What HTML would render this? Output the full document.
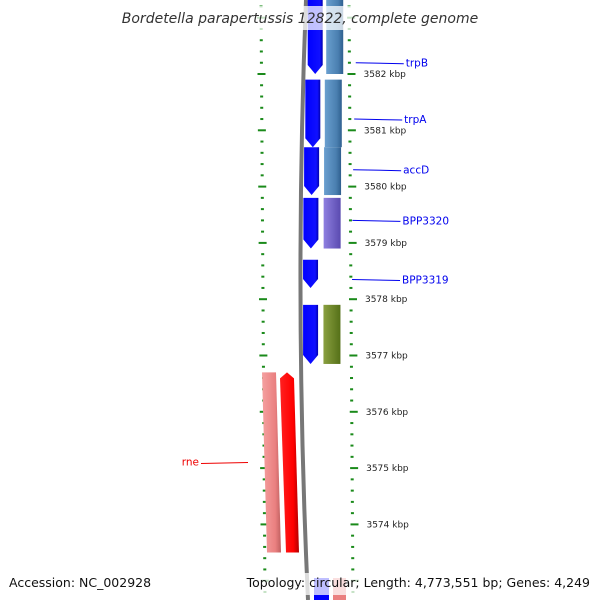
<!DOCTYPE html>
<html><head><meta charset="utf-8"><style>
body{margin:0;background:#fff}
svg text{font-family:"DejaVu Sans","Liberation Sans",sans-serif}
</style></head><body>
<svg id="map" width="600" height="600" viewBox="0 0 600 600" xmlns="http://www.w3.org/2000/svg">
<defs>
<linearGradient id="gb" x1="0" x2="1"><stop offset="0" stop-color="#0000ff"/><stop offset="0.8" stop-color="#1010ff"/><stop offset="1" stop-color="#0000b0"/></linearGradient>
<linearGradient id="gs" x1="0" x2="1"><stop offset="0" stop-color="#6a9fcf"/><stop offset="0.7" stop-color="#4a7fb0"/><stop offset="1" stop-color="#2f5f8f"/></linearGradient>
<linearGradient id="gp" x1="0" x2="1"><stop offset="0" stop-color="#8f80e0"/><stop offset="1" stop-color="#5a4ab0"/></linearGradient>
<linearGradient id="go" x1="0" x2="1"><stop offset="0" stop-color="#8aa040"/><stop offset="1" stop-color="#557018"/></linearGradient>
<linearGradient id="gk" x1="0" x2="1"><stop offset="0" stop-color="#f5a0a0"/><stop offset="0.7" stop-color="#ea8080"/><stop offset="1" stop-color="#c06060"/></linearGradient>
<linearGradient id="gr" x1="0" x2="1"><stop offset="0" stop-color="#ff2020"/><stop offset="0.7" stop-color="#ff0000"/><stop offset="1" stop-color="#b00000"/></linearGradient>
</defs>
<g id="ticks"></g>
<path d="M306,0 Q294,300 308,600" stroke="#777" stroke-width="4" fill="none"/>
<g id="genes"></g>
<g id="labels"></g>
<rect x="120" y="6" width="360" height="24" fill="#fff" opacity="0.75"/>
<text x="300" y="23" text-anchor="middle" font-size="14" font-style="italic" fill="#333">Bordetella parapertussis 12822, complete genome</text>
<rect x="255" y="573" width="340" height="22" fill="#fff" opacity="0.75"/>
<text x="9" y="587" font-size="12.5" fill="#111">Accession: NC_002928</text>
<text x="590" y="587" text-anchor="end" font-size="12.5" fill="#111">Topology: circular; Length: 4,773,551 bp; Genes: 4,249</text>
</svg>
<script>
const geneNames=["BPP3324","trpB","trpA","accD","BPP3320","BPP3319","rne"];
const geneStart=[3583.4,3581.9,3580.7,3579.8,3578.7,3577.9,3576.7];
const geneEnd=[3582.0,3580.7,3579.85,3578.9,3578.2,3576.85,3573.5];
const geneStrand=[1,1,1,1,1,1,-1];
const geneCat=["gs","gs","gs","gp","","go","gk"];
const labelKbp=[3583.5,3582.2,3581.2,3580.3,3579.4,3578.35,3575.1];
const tickKbp=[3582,3581,3580,3579,3578,3577,3576,3575,3574];
const NS="http://www.w3.org/2000/svg";
function yOf(k){return 74+(3582-k)*56.3;}
function bend(y){return -6*(1-Math.pow((y-300)/300,2));}
function mk(t,a,p){const e=document.createElementNS(NS,t);for(const k in a)e.setAttribute(k,a[k]);p.appendChild(e);return e;}
const T=document.getElementById('ticks'),G=document.getElementById('genes'),L=document.getElementById('labels');
// ticks every 0.2 kbp
for(let i=-8;i<=55;i++){
  const k=3583.6-i*0.2;const y=yOf(k);if(y<0||y>600)continue;
  const major=Math.abs(k-Math.round(k))<0.01;
  const xl=261+y/600*4, xr=349+y/600*4;
  const w=major?8:3;
  const a=mk('rect',{x:xl-w/2,y:y-1,width:w,height:2,fill:'#1a8a1a'},T);
  
  const b=mk('rect',{x:xr-w/2+(major?2:0),y:y-1,width:w,height:2,fill:'#1a8a1a'},T);
  
}
tickKbp.forEach(k=>{const y=yOf(k);
  const t=mk('text',{x:363+y/600*4,y:y+3,'font-size':'9','fill':'#222'},T);t.textContent=k+' kbp';
  });
geneNames.forEach((n,i)=>{
  const y1=Math.max(-10,yOf(geneStart[i])),y2=yOf(geneEnd[i]);
  if(geneStrand[i]>0){
    const m=bend((y1+y2)/2);
    const x1=309+m,x2=324+m,tip=Math.min(9,(y2-y1)/3);
    const p=mk('path',{d:`M${x1},${y1}L${x2},${y1}L${x2},${y2-tip}L${(x1+x2)/2},${y2}L${x1},${y2-tip}Z`,fill:'url(#gb)'},G);
    
    if(geneCat[i]){const r=mk('rect',{x:327+m*0.6,y:y1,width:17,height:y2-y1,fill:'url(#'+geneCat[i]+')'},G);
      }
    const ly=yOf(labelKbp[i]);
    const ln=mk('line',{x1:358+bend(ly),y1:ly,x2:406+bend(ly),y2:ly+1,stroke:'#0000ee','stroke-width':1},L);
    
    const t=mk('text',{x:408+bend(ly),y:ly+4,'font-size':'10.5',fill:'#0000ee'},L);t.textContent=n;
    
  }else{
    const y3=yOf(geneStart[i]);
    const r=mk('path',{d:`M262,${y3}L276,${y3}L281,${y2}L267,${y2}Z`,fill:'url(#gk)'},G);
    
    const p=mk('path',{d:`M280,${y3+6}L287,${y3}L294,${y3+6}L299,${y2}L286,${y2}Z`,fill:'url(#gr)'},G);
    
    const ly=yOf(labelKbp[i]);
    const ln=mk('line',{x1:201,y1:ly+1,x2:248,y2:ly,stroke:'#ee0000','stroke-width':1},L);
    
    const t=mk('text',{x:199,y:ly+3,'font-size':'10.5',fill:'#ee0000','text-anchor':'end'},L);t.textContent=n;
    
  }
});
// bottom wrap-around genes
const b1=mk('rect',{x:314,y:578,width:15,height:22,fill:'#0000ff'},G);
const b2=mk('rect',{x:333,y:578,width:13,height:22,fill:'#ea8080'},G);
</script>
</body></html>
